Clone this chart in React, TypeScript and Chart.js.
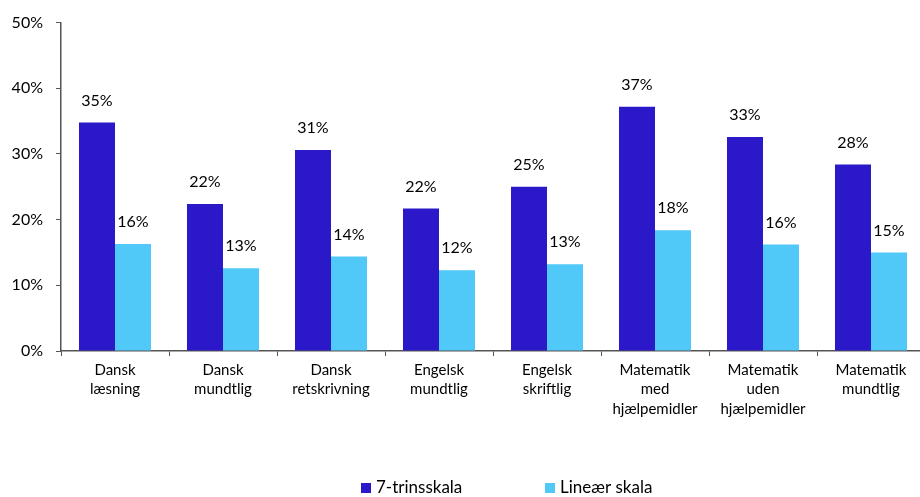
import React, { useEffect, useRef } from "react";
import { Chart, registerables } from "chart.js";

Chart.register(...registerables);

const categories: string[][] = [
  ["Dansk", "læsning"],
  ["Dansk", "mundtlig"],
  ["Dansk", "retskrivning"],
  ["Engelsk", "mundtlig"],
  ["Engelsk", "skriftlig"],
  ["Matematik", "med", "hjælpemidler"],
  ["Matematik", "uden", "hjælpemidler"],
  ["Matematik", "mundtlig"],
];
const seriesNames = ["7-trinsskala", "Lineær skala"];
const syvTrin = [34.8, 22.4, 30.6, 21.7, 25.0, 37.2, 32.6, 28.4];
const lineaer = [16.3, 12.6, 14.4, 12.3, 13.2, 18.4, 16.2, 15.0];
const yTicks = [0, 10, 20, 30, 40, 50];
const colors = ["#2B18C8", "#50C8F8"];

const FONT = "Lato, 'Open Sans', sans-serif";

const labelsPlugin = {
  id: "customLabels",
  afterDatasetsDraw(chart: any) {
    const ctx = chart.ctx;
    ctx.save();
    ctx.fillStyle = "#000";
    ctx.font = `16px ${FONT}`;
    ctx.textAlign = "center";
    ctx.textBaseline = "middle";
    chart.data.datasets.forEach((ds: any, i: number) => {
      const meta = chart.getDatasetMeta(i);
      meta.data.forEach((el: any, j: number) => {
        ctx.fillText(Math.round(ds.data[j]) + "%", el.x, el.y - 22);
      });
    });
    // legend
    const items = [
      { x: 361, color: colors[0], text: seriesNames[0] },
      { x: 545, color: colors[1], text: seriesNames[1] },
    ];
    const ly = 488;
    ctx.font = `17px ${FONT}`;
    ctx.textAlign = "left";
    items.forEach((it) => {
      ctx.fillStyle = it.color;
      ctx.fillRect(it.x, ly - 5, 10, 10);
      ctx.fillStyle = "#000";
      ctx.fillText(it.text, it.x + 15, ly);
    });
    ctx.restore();
  },
};

export default function App() {
  const ref = useRef<HTMLCanvasElement>(null);
  useEffect(() => {
    if (!ref.current) return;
    const chart = new Chart(ref.current, {
      type: "bar",
      data: {
        labels: categories,
        datasets: [
          { label: seriesNames[0], data: syvTrin, backgroundColor: colors[0] },
          { label: seriesNames[1], data: lineaer, backgroundColor: colors[1] },
        ],
      },
      options: {
        animation: false,
        responsive: false,
        layout: { padding: { top: 21, right: 9, left: 0, bottom: 0 } },
        datasets: { bar: { categoryPercentage: 2 / 3, barPercentage: 1 } },
        plugins: { legend: { display: false }, tooltip: { enabled: false } },
        scales: {
          x: {
            grid: {
              display: true,
              drawOnChartArea: false,
              drawTicks: true,
              tickLength: 5,
              color: "#555",
              offset: true,
            },
            border: { display: true, color: "#555", width: 1.5 },
            ticks: {
              color: "#000",
              font: { family: FONT, size: 15, lineHeight: 1.3 },
              padding: 4,
              maxRotation: 0,
              autoSkip: false,
            },
            afterFit: (s: any) => {
              s.height = 146;
            },
          },
          y: {
            min: 0,
            max: 50,
            afterBuildTicks: (s: any) => {
              s.ticks = yTicks.map((v) => ({ value: v }));
            },
            grid: {
              display: true,
              drawOnChartArea: false,
              drawTicks: true,
              tickLength: 5,
              color: "#555",
            },
            border: { display: true, color: "#555", width: 1.5 },
            ticks: {
              color: "#000",
              font: { family: FONT, size: 16 },
              padding: 13,
              callback: (v: any) => v + "%",
            },
            afterFit: (s: any) => {
              s.width = 61;
            },
          },
        },
      },
      plugins: [labelsPlugin],
    });
    return () => chart.destroy();
  }, []);
  return (
    <div
      style={{
        position: "fixed",
        left: 0,
        top: 0,
        width: 920,
        height: 497,
        overflow: "hidden",
        background: "#fff",
      }}
    >
      <canvas ref={ref} width={934} height={497} style={{ display: "block" }} />
    </div>
  );
}
